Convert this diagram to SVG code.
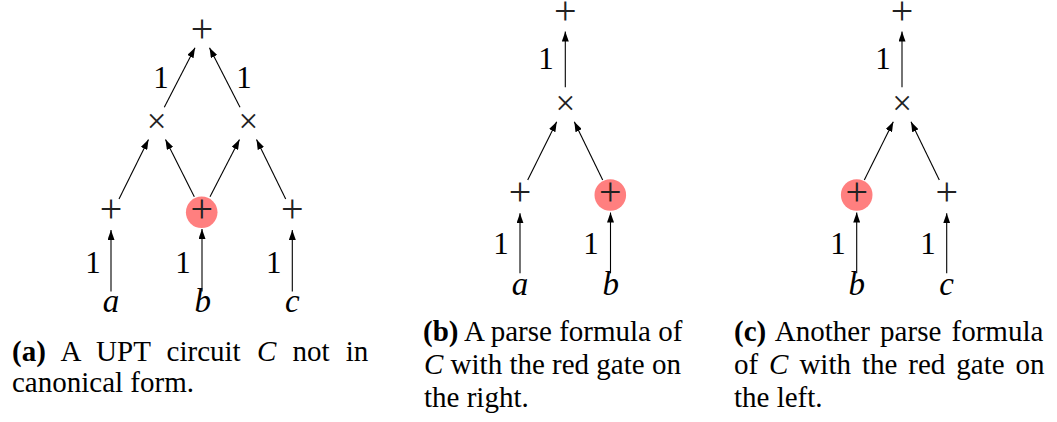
<svg xmlns="http://www.w3.org/2000/svg" width="1057" height="422" viewBox="0 0 1057 422">
<defs>
<style>
.op{font-family:"Liberation Serif",serif;font-size:40px;text-anchor:middle;fill:#222}
.mul{font-family:"Liberation Serif",serif;font-size:35px;text-anchor:middle;fill:#222}
.w{font-family:"Liberation Serif",serif;font-size:31px;text-anchor:middle;fill:#000}
.v{font-family:"Liberation Serif",serif;font-style:italic;font-size:33px;text-anchor:middle;fill:#000}
.cap{font-family:"Liberation Serif",serif;font-size:29px;fill:#000}
.b{font-weight:bold}
.i{font-style:italic}
.red{fill:#ff7f7f}
.e{stroke:#000;stroke-width:1.1;fill:none;marker-end:url(#ah)}
</style>
<marker id="ah" markerUnits="userSpaceOnUse" markerWidth="10" markerHeight="7" refX="10" refY="3.5" orient="auto">
<path d="M0,0 L10,3.5 L0,7 z" fill="#000"/>
</marker>
</defs>
<rect width="1057" height="422" fill="#fff"/>

<!-- Panel (a) -->
<g id="a-red"><circle class="red" cx="201.7" cy="212.3" r="15.8"/></g>
<g id="a-connectors">
<line class="e" x1="164.3" y1="107.3" x2="195" y2="47.7"/>
<line class="e" x1="240" y1="107.3" x2="209.5" y2="47.7"/>
<line class="e" x1="119" y1="199" x2="148.5" y2="139.5"/>
<line class="e" x1="194.3" y1="196.7" x2="165.5" y2="139.5"/>
<line class="e" x1="210" y1="196.7" x2="239.5" y2="139.5"/>
<line class="e" x1="285.7" y1="199" x2="256.5" y2="139.5"/>
<line class="e" x1="111" y1="291.5" x2="111" y2="230"/>
<line class="e" x1="202" y1="291.5" x2="202" y2="229"/>
<line class="e" x1="292.3" y1="291.5" x2="292.3" y2="230"/>
<text class="w" x="161" y="87.5">1</text>
<text class="w" x="244" y="87.5">1</text>
<text class="w" x="93" y="272.7">1</text>
<text class="w" x="183" y="272.7">1</text>
<text class="w" x="273.7" y="272.7">1</text>
</g>
<g id="a-top"><text class="op" x="202" y="42.3">+</text></g>
<g id="a-mul1"><text class="mul" x="156.7" y="132.8">×</text></g>
<g id="a-mul2"><text class="mul" x="248.3" y="132.8">×</text></g>
<g id="a-plus1"><text class="op" x="111" y="222.4">+</text></g>
<g id="a-plus2"><text class="op" x="201.7" y="222.4">+</text></g>
<g id="a-plus3"><text class="op" x="292.3" y="222.4">+</text></g>
<g id="a-a"><text class="v" x="111" y="312">a</text></g>
<g id="a-b"><text class="v" x="202.7" y="312">b</text></g>
<g id="a-c"><text class="v" x="292.3" y="312">c</text></g>

<!-- Panel (b) -->
<g id="b-red"><circle class="red" cx="610.3" cy="195" r="15.8"/></g>
<g id="b-connectors">
<line class="e" x1="565.3" y1="87.3" x2="565.3" y2="31.5"/>
<line class="e" x1="527.7" y1="180" x2="556.7" y2="121.7"/>
<line class="e" x1="602.7" y1="180" x2="574.3" y2="121.7"/>
<line class="e" x1="520" y1="273.3" x2="520" y2="213.3"/>
<line class="e" x1="610.5" y1="273.3" x2="610.5" y2="212.5"/>
<text class="w" x="546" y="69.3">1</text>
<text class="w" x="501" y="254.3">1</text>
<text class="w" x="591" y="254.3">1</text>
</g>
<g id="b-top"><text class="op" x="565.3" y="24.1">+</text></g>
<g id="b-mul"><text class="mul" x="565.3" y="114.8">×</text></g>
<g id="b-plus1"><text class="op" x="520" y="205.1">+</text></g>
<g id="b-plus2"><text class="op" x="610.3" y="205.1">+</text></g>
<g id="b-a"><text class="v" x="520" y="295">a</text></g>
<g id="b-b"><text class="v" x="610.7" y="295">b</text></g>

<!-- Panel (c) -->
<g id="c-red"><circle class="red" cx="856.7" cy="195" r="15.8"/></g>
<g id="c-connectors">
<line class="e" x1="902" y1="87.3" x2="902" y2="31.5"/>
<line class="e" x1="864.3" y1="180" x2="893.3" y2="121.7"/>
<line class="e" x1="939.3" y1="180" x2="911" y2="121.7"/>
<line class="e" x1="856.7" y1="273.3" x2="856.7" y2="212.5"/>
<line class="e" x1="946.7" y1="273.3" x2="946.7" y2="213.3"/>
<text class="w" x="883" y="69.3">1</text>
<text class="w" x="838" y="254.3">1</text>
<text class="w" x="928" y="254.3">1</text>
</g>
<g id="c-top"><text class="op" x="902" y="24.1">+</text></g>
<g id="c-mul"><text class="mul" x="902" y="114.8">×</text></g>
<g id="c-plus1"><text class="op" x="856.7" y="205.1">+</text></g>
<g id="c-plus2"><text class="op" x="946.7" y="205.1">+</text></g>
<g id="c-b"><text class="v" x="856.7" y="295">b</text></g>
<g id="c-c"><text class="v" x="946.7" y="295">c</text></g>

<!-- Captions -->
<g id="caption-a">
<text class="cap" x="12" y="361" word-spacing="9"><tspan class="b">(a)</tspan> A UPT circuit <tspan class="i">C</tspan> not in</text>
<text class="cap" x="12" y="392">canonical form.</text>
</g>
<g id="caption-b">
<text class="cap" x="423" y="341"><tspan class="b">(b)</tspan> A parse formula of</text>
<text class="cap" x="424" y="374"><tspan class="i">C</tspan> with the red gate on</text>
<text class="cap" x="424" y="407">the right.</text>
</g>
<g id="caption-c">
<text class="cap" x="734" y="341" word-spacing="3"><tspan class="b">(c)</tspan> Another parse formula</text>
<text class="cap" x="734" y="374" word-spacing="3.7">of <tspan class="i">C</tspan> with the red gate on</text>
<text class="cap" x="734" y="407">the left.</text>
</g>
</svg>
